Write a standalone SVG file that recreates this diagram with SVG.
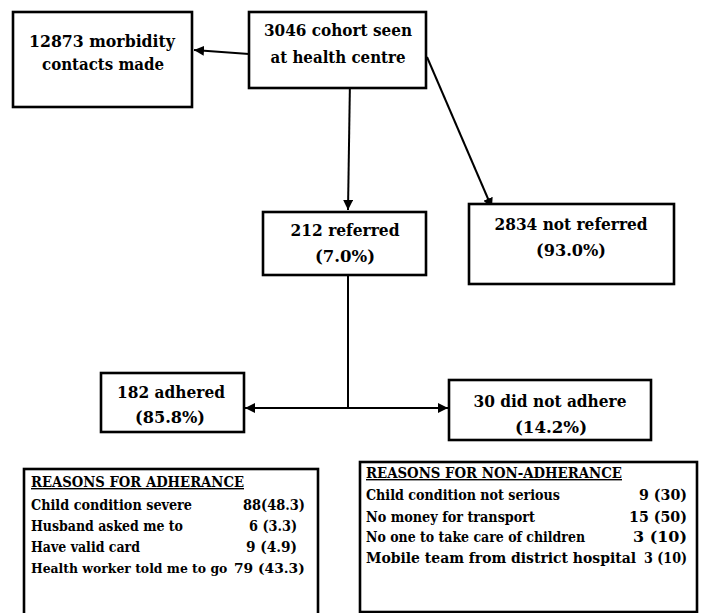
<svg xmlns="http://www.w3.org/2000/svg" width="705" height="613" viewBox="0 0 705 613">
<style>
.box{fill:#fff;stroke:#000;stroke-width:2.6}
.t{font-family:"DejaVu Serif","Liberation Serif",serif;font-weight:bold;font-size:16px;fill:#000;text-anchor:middle}
.r{font-family:"DejaVu Serif","Liberation Serif",serif;font-weight:bold;font-size:14px;fill:#000}
.n{text-anchor:end}
.h{text-decoration:underline}
.c{stroke:#000;stroke-width:2;fill:none}
</style>
<defs>
<marker id="ah" viewBox="0 0 10 10" refX="10" refY="5" markerWidth="5" markerHeight="5" orient="auto" markerUnits="strokeWidth">
<path d="M0,0 L10,5 L0,10 z" fill="#000"/>
</marker>
</defs>
<rect width="705" height="613" fill="#fff"/>
<g id="connectors">
<line class="c" x1="249" y1="54" x2="194" y2="50" marker-end="url(#ah)"/>
<line class="c" x1="350" y1="79" x2="348" y2="210" marker-end="url(#ah)"/>
<line class="c" x1="427" y1="57" x2="492" y2="208" marker-end="url(#ah)"/>
<line class="c" x1="348" y1="276" x2="348" y2="408"/>
<line class="c" x1="348" y1="408" x2="245" y2="408" marker-end="url(#ah)"/>
<line class="c" x1="348" y1="408" x2="448" y2="408" marker-end="url(#ah)"/>
</g>
<g id="morbidity">
<rect class="box" x="13" y="12" width="179" height="95"/>
<text class="t" x="102" y="47" textLength="146" lengthAdjust="spacingAndGlyphs">12873 morbidity</text>
<text class="t" x="103" y="70" textLength="122" lengthAdjust="spacingAndGlyphs">contacts made</text>
</g>
<g id="cohort">
<rect class="box" x="249" y="12" width="177" height="76"/>
<text class="t" x="338" y="36" textLength="148" lengthAdjust="spacingAndGlyphs">3046 cohort seen</text>
<text class="t" x="338" y="63" textLength="135" lengthAdjust="spacingAndGlyphs">at health centre</text>
</g>
<g id="referred">
<rect class="box" x="263" y="212" width="163" height="63"/>
<text class="t" x="345" y="236" textLength="109" lengthAdjust="spacingAndGlyphs">212 referred</text>
<text class="t" x="345" y="262" textLength="60" lengthAdjust="spacingAndGlyphs">(7.0%)</text>
</g>
<g id="notreferred">
<rect class="box" x="469" y="204" width="205" height="80"/>
<text class="t" x="571" y="230" textLength="153" lengthAdjust="spacingAndGlyphs">2834 not referred</text>
<text class="t" x="571" y="256" textLength="70" lengthAdjust="spacingAndGlyphs">(93.0%)</text>
</g>
<g id="adhered">
<rect class="box" x="101" y="373" width="143" height="59"/>
<text class="t" x="171" y="398" textLength="108" lengthAdjust="spacingAndGlyphs">182 adhered</text>
<text class="t" x="170" y="423" textLength="70" lengthAdjust="spacingAndGlyphs">(85.8%)</text>
</g>
<g id="notadhere">
<rect class="box" x="449" y="380" width="202" height="60"/>
<text class="t" x="550" y="407" textLength="153" lengthAdjust="spacingAndGlyphs">30 did not adhere</text>
<text class="t" x="551" y="433" textLength="72" lengthAdjust="spacingAndGlyphs">(14.2%)</text>
</g>
<g id="reasons-adherance">
<rect class="box" x="24" y="469" width="294" height="148"/>
<text class="r h" x="31" y="487" textLength="213" lengthAdjust="spacingAndGlyphs">REASONS FOR ADHERANCE</text>
<text class="r" x="31" y="510" textLength="161" lengthAdjust="spacingAndGlyphs">Child condition severe</text>
<text class="r n" x="305" y="510" textLength="62" lengthAdjust="spacingAndGlyphs">88(48.3)</text>
<text class="r" x="31" y="531" textLength="152" lengthAdjust="spacingAndGlyphs">Husband asked me to</text>
<text class="r n" x="297" y="531" textLength="48" lengthAdjust="spacingAndGlyphs">6 (3.3)</text>
<text class="r" x="31" y="552" textLength="109" lengthAdjust="spacingAndGlyphs">Have valid card</text>
<text class="r n" x="297" y="552" textLength="51" lengthAdjust="spacingAndGlyphs">9 (4.9)</text>
<text class="r" x="31" y="573"><tspan font-size="12.4">Health worker told me to go</tspan> <tspan x="234" font-size="13.8">79 (43.3)</tspan></text>
</g>
<g id="reasons-nonadherance">
<rect class="box" x="360" y="462" width="337" height="150"/>
<text class="r h" x="366" y="478" textLength="256" lengthAdjust="spacingAndGlyphs">REASONS FOR NON-ADHERANCE</text>
<text class="r" x="366" y="500" textLength="194" lengthAdjust="spacingAndGlyphs">Child condition not serious</text>
<text class="r n" x="687" y="500" textLength="48" lengthAdjust="spacingAndGlyphs">9 (30)</text>
<text class="r" x="366" y="522" textLength="169" lengthAdjust="spacingAndGlyphs">No money for transport</text>
<text class="r n" x="687" y="522" textLength="58" lengthAdjust="spacingAndGlyphs">15 (50)</text>
<text class="r" x="366" y="542" textLength="219" lengthAdjust="spacingAndGlyphs">No one to take care of children</text>
<text class="r n" x="687" y="542" textLength="54" lengthAdjust="spacingAndGlyphs">3  (10)</text>
<text class="r" x="366" y="563" textLength="270" lengthAdjust="spacingAndGlyphs">Mobile team from district hospital</text>
<text class="r n" x="687" y="563" textLength="43" lengthAdjust="spacingAndGlyphs">3 (10)</text>
</g>
</svg>
